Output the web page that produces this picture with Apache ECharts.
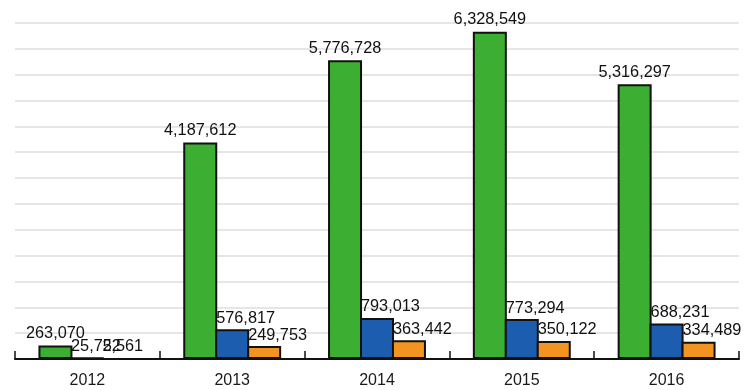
<!DOCTYPE html>
<html><head><meta charset="utf-8">
<script src="https://cdn.jsdelivr.net/npm/echarts@6/dist/echarts.min.js"></script>
<style>html,body{margin:0;padding:0;background:#fff}#c{width:744px;height:390px}</style>
</head><body><div id="c"></div>
<script>
var categories = ['2012', '2013', '2014', '2015', '2016'];
var greenValues = [263070, 4187612, 5776728, 6328549, 5316297];
var blueValues = [25752, 576817, 793013, 773294, 688231];
var orangeValues = [2561, 249753, 363442, 350122, 334489];

function fmt(v){ return v.toLocaleString('en-US'); }
var fontFam = '"Liberation Sans", Arial, Helvetica, sans-serif';
var chart = echarts.init(document.getElementById('c'));
function mk(data, color, centered){
  return {
    type: 'bar', data: data, barGap: '-6%', barWidth: 34,
    itemStyle: { color: color, borderColor: '#111', borderWidth: 2 },
    label: centered ? {
      show: true, position: 'top', distance: 4, color: '#111', fontSize: 16.3, fontFamily: fontFam,
      formatter: function(p){ return fmt(p.value); }
    } : {
      show: true, position: [1, -3], align: 'left', verticalAlign: 'bottom', color: '#111', fontSize: 16.3, fontFamily: fontFam,
      formatter: function(p){ return fmt(p.value); }
    }
  };
}
chart.setOption({
  animation: false,
  grid: { left: 15, right: 5, top: 0, bottom: 31, containLabel: false },
  xAxis: {
    type: 'category', data: categories,
    axisLine: { lineStyle: { color: '#111', width: 2 } },
    axisTick: { show: true, inside: true, length: 8, lineStyle: { color: '#111', width: 1.5 } },
    axisLabel: { color: '#1a1a1a', fontSize: 16, fontFamily: fontFam, margin: 14 }
  },
  yAxis: {
    type: 'value', min: 0, max: 6944000, interval: 500000,
    axisLine: { show: false }, axisTick: { show: false }, axisLabel: { show: false },
    splitLine: { showMaxLine: false, lineStyle: { color: '#dedede', width: 1.5 } }
  },
  series: [
    mk(greenValues, '#3cae32', true),
    mk(blueValues, '#1d5db0', false),
    mk(orangeValues, '#f39322', false)
  ]
});
</script></body></html>
